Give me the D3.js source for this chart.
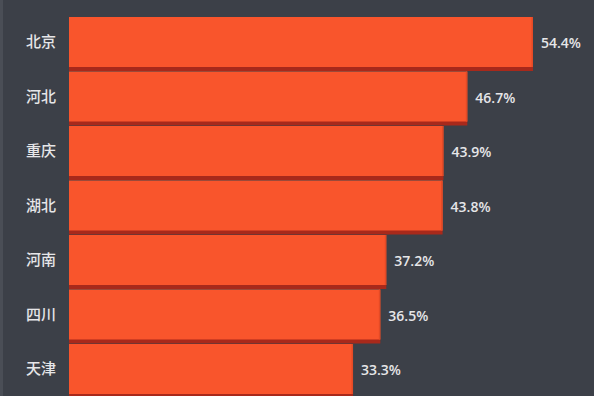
<!DOCTYPE html>
<html><head><meta charset="utf-8">
<script src="https://cdn.jsdelivr.net/npm/d3@7"></script>
<style>
html,body{margin:0;padding:0;background:#3c4048;overflow:hidden;}
svg{display:block;}
</style></head>
<body><svg id="c" width="594" height="396"></svg>
<script>
const provinces = ["北京","河北","重庆","湖北","河南","四川","天津"];
const rates = [54.4, 46.7, 43.9, 43.8, 37.2, 36.5, 33.3];

const W = 594, H = 396;
const svg = d3.select("#c");
svg.append("rect").attr("width", W).attr("height", H).attr("fill", "#3c4048");
svg.append("rect").attr("x", 0).attr("y", 0).attr("width", 3).attr("height", H).attr("fill", "#4a4e56");

const x = d3.scaleLinear().domain([0, 54.4]).range([69, 533]);
const y = d3.scaleBand().domain(provinces).range([17, 17 + 6*54.5 + 50]).paddingInner(4.5/54.5).paddingOuter(0);
const bh = y.bandwidth();

const g = svg.append("g");
const rows = g.selectAll("g.row").data(provinces.map((p,i)=>({p, v: rates[i]}))).join("g");

rows.append("rect")
  .attr("x", x(0)).attr("y", d => y(d.p) + bh - 1)
  .attr("width", d => x(d.v) - x(0)).attr("height", 5)
  .attr("fill", "#a8291b");
rows.append("rect")
  .attr("x", x(0)).attr("y", d => y(d.p))
  .attr("width", d => x(d.v) - x(0)).attr("height", bh)
  .attr("fill", "#f9552c");
rows.append("rect")
  .attr("x", d => x(d.v) - 1.5).attr("y", d => y(d.p))
  .attr("width", 1.5).attr("height", bh)
  .attr("fill", "#e44a26");

rows.append("text")
  .attr("x", 56).attr("y", d => y(d.p) + bh/2)
  .attr("dy", "0.36em").attr("text-anchor", "end")
  .attr("font-family", "'Noto Sans CJK SC', sans-serif")
  .attr("font-size", 15).attr("font-weight", 500)
  .attr("fill", "#e6e6e8")
  .text(d => d.p);

rows.append("text")
  .attr("x", d => x(d.v) + 8).attr("y", d => y(d.p) + bh/2 + 1)
  .attr("dy", "0.36em")
  .attr("font-family", "'Open Sans', 'Noto Sans', sans-serif")
  .attr("font-size", 14).attr("font-weight", 600)
  .attr("fill", "#e6e6e8")
  .text(d => d.v.toFixed(1) + "%");
</script></body></html>
